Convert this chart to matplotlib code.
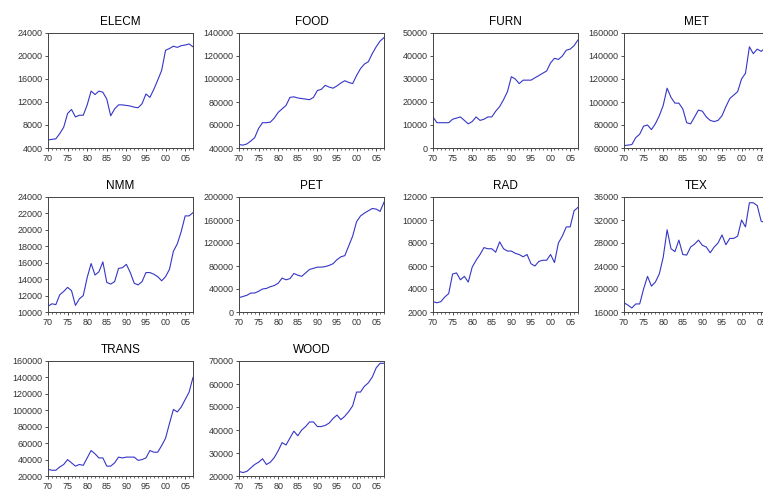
import matplotlib
matplotlib.use("Agg")
from matplotlib import pyplot as plt
from matplotlib.ticker import MultipleLocator, FixedLocator
import numpy as np

years = np.arange(1970, 2008)

elecm = [5400, 5500, 5600, 6500, 7600, 10000, 10700, 9400, 9700, 9700,
         11500, 13900, 13300, 13900, 13700, 12500, 9600, 10800, 11500, 11500,
         11400, 11300, 11100, 11000, 11700, 13400, 12800, 14200, 15800, 17500,
         21000, 21300, 21700, 21500, 21800, 21900, 22100, 21600]
food = [43000, 42500, 43500, 46000, 49000, 57000, 62000, 62000, 62500, 66000,
        71000, 74000, 77000, 84000, 84500, 83500, 83000, 82500, 82000, 84000,
        90000, 91000, 94500, 93000, 92000, 94000, 96500, 98500, 97000, 96000,
        103000, 109000, 113000, 115000, 122000, 128000, 133000, 136000]
furn = [13500, 11000, 11000, 11000, 11000, 12500, 13000, 13500, 12000, 10500,
        11500, 13500, 12000, 12500, 13500, 13500, 16000, 18000, 21000, 24500,
        31000, 30000, 28000, 29500, 29500, 29500, 30500, 31500, 32500, 33500,
        37000, 39000, 38500, 40000, 42500, 43000, 44500, 47000]
met = [62000, 62500, 63000, 69000, 72000, 79000, 80000, 76000, 81000, 88000,
       97000, 112000, 104000, 99000, 99000, 94000, 82000, 81000, 87000, 93000,
       92000, 87000, 84000, 83000, 84000, 88000, 96000, 103000, 106000, 109000,
       120000, 125000, 148000, 142000, 146000, 144000, 147000, 150000]
nmm = [10700, 11000, 10900, 12100, 12500, 13000, 12600, 10800, 11600, 12000,
       14200, 15900, 14500, 14900, 16100, 13600, 13400, 13700, 15300, 15400,
       15800, 14800, 13500, 13300, 13700, 14800, 14800, 14600, 14300, 13800,
       14300, 15200, 17400, 18300, 19800, 21700, 21700, 22100]
pet = [25000, 27000, 29000, 33000, 33000, 36000, 40000, 41000, 44000, 46000,
       50000, 59000, 56000, 58000, 67000, 64000, 62000, 68000, 74000, 76000,
       78000, 78000, 79000, 81000, 84000, 91000, 96000, 98000, 115000, 132000,
       157000, 167000, 172000, 176000, 180000, 179000, 175000, 191000]
rad = [2900, 2800, 2900, 3300, 3600, 5300, 5400, 4800, 5100, 4600,
       5900, 6500, 7000, 7600, 7500, 7500, 7200, 8100, 7500, 7300,
       7300, 7100, 7000, 6800, 7000, 6200, 6000, 6400, 6500, 6500,
       7000, 6300, 8000, 8600, 9400, 9400, 10800, 11100]
tex = [17600, 17200, 16700, 17400, 17400, 20000, 22200, 20500, 21200, 22600,
       25500, 30300, 27000, 26500, 28500, 26000, 25900, 27300, 27800, 28500,
       27600, 27300, 26300, 27300, 28000, 29400, 27700, 28800, 28800, 29200,
       32000, 30800, 35000, 35000, 34500, 31800, 31500, 32000]
trans = [28000, 27000, 27000, 31000, 34000, 40000, 36000, 32000, 34000, 33000,
         42000, 51000, 47000, 42000, 42000, 32000, 32000, 36000, 43000, 42000,
         43000, 43000, 43000, 39000, 40000, 42000, 51000, 49000, 49000, 57000,
         66000, 84000, 101000, 98000, 104000, 113000, 122000, 140000]
wood = [22000, 21500, 22000, 23500, 25000, 26000, 27500, 25000, 26000, 28000,
        31000, 34500, 33500, 36500, 39500, 37500, 40000, 41500, 43500, 43500,
        41500, 41500, 42000, 43000, 45000, 46500, 44500, 46000, 48000, 50500,
        56500, 56500, 59000, 60500, 63000, 67000, 69000, 69000]

names = ["ELECM", "FOOD", "FURN", "MET", "NMM", "PET", "RAD", "TEX", "TRANS", "WOOD"]
series = [elecm, food, furn, met, nmm, pet, rad, tex, trans, wood]
ylims = [(4000, 24000, 4000), (40000, 140000, 20000), (0, 50000, 10000),
         (60000, 160000, 20000), (10000, 24000, 2000), (0, 200000, 40000),
         (2000, 12000, 2000), (16000, 36000, 4000), (20000, 160000, 20000),
         (20000, 70000, 10000)]

W, H = 763, 494
fig = plt.figure(figsize=(W / 100, H / 100), dpi=100)
plt.rcParams['font.family'] = ['Liberation Sans', 'DejaVu Sans']

col_left = [48, 239, 433, 624]
row_top = [33, 197, 361]
aw, ah = 145, 115

for i, (name, vals) in enumerate(zip(names, series)):
    r, c = divmod(i, 4)
    ax = fig.add_axes([col_left[c] / W, 1 - (row_top[r] + ah) / H, aw / W, ah / H])
    ax.plot(years, vals, color='#3535c8', lw=0.8)
    lo, hi, step = ylims[i]
    ax.set_ylim(lo, hi)
    ax.set_yticks(np.arange(lo, hi + 1, step))
    ax.set_xlim(1970, 2007)
    ax.xaxis.set_major_locator(FixedLocator(range(1970, 2008, 5)))
    ax.xaxis.set_minor_locator(MultipleLocator(1))
    ax.set_xticklabels(['70', '75', '80', '85', '90', '95', '00', '05'])
    ax.tick_params(axis='both', labelsize=6.5, direction='out', length=2.5,
                   width=0.6, pad=1.5, colors='#333333')
    ax.tick_params(axis='x', which='minor', length=1.5, width=0.5, colors='#333333')
    for s in ax.spines.values():
        s.set_linewidth(0.7)
        s.set_color('#444444')
    ax.set_title(name, fontsize=8.5, pad=6)

fig.savefig('out.png', dpi=100)
